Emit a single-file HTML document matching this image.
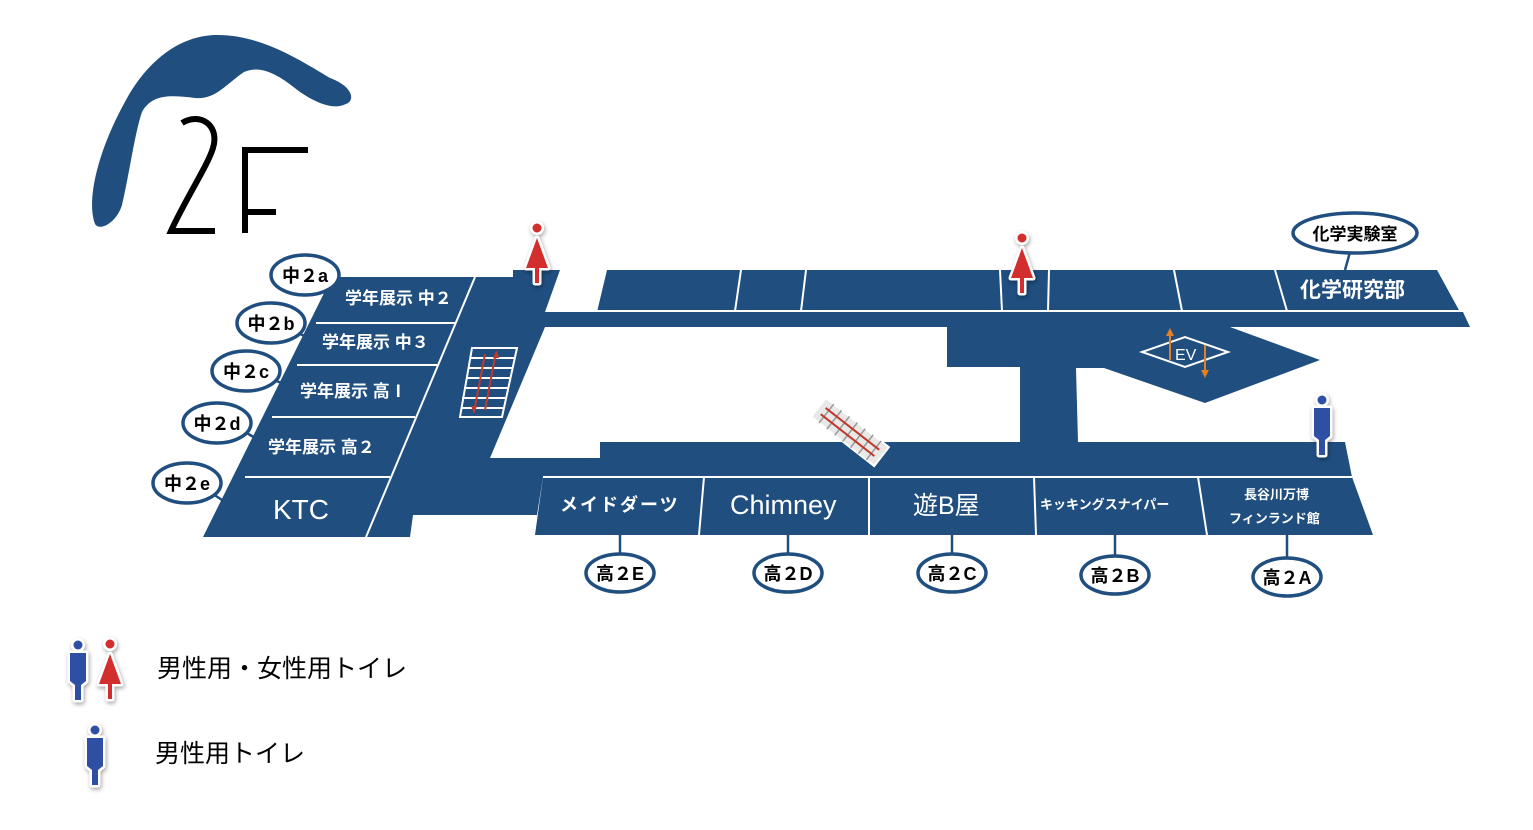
<!DOCTYPE html>
<html><head><meta charset="utf-8"><style>
html,body{margin:0;padding:0;background:#fff;}
svg{display:block}
text{font-family:"Liberation Sans","Noto Sans CJK JP",sans-serif;}
</style></head><body>
<svg width="1533" height="830" viewBox="0 0 1533 830" xmlns="http://www.w3.org/2000/svg">
<defs>
<filter id="sh" x="-50%" y="-50%" width="200%" height="200%"><feDropShadow dx="1" dy="2" stdDeviation="2" flood-color="#000" flood-opacity="0.35"/></filter>
</defs>
<!-- logo -->
<path d="M95,224 C86,200 98,150 126,100 C148,60 180,36 215,35 C260,34 300,60 330,78 C352,86 356,100 346,104 C334,110 318,104 300,92 C280,76 262,64 244,72 C225,85 215,100 195,98 C170,95 152,94 142,112 C135,132 130,170 122,205 C117,222 100,232 95,224 Z" fill="#1f4e7f"/>
<path d="M182,123 C200,112 220,125 213,148 C208,165 185,200 171,231 L215,231" fill="none" stroke="#000" stroke-width="6"/>
<path d="M245,233 L245,150 L308,150 M245,212 L276,212" fill="none" stroke="#000" stroke-width="6"/>

<g fill="#1f4e7f">
<polygon points="332,277 475,277 366,537 203,537"/>
<polygon points="472,277 513,277 513,270 560,270 545,312 598,312 598,327 545,327 490,458 600,458 600,442 1020,442 1020,367 947,367 947,327 1230,327 1320,360 1205,403 1104,368 1076,368 1078,442 1345,442 1352,477 543,477 537,515 413,515 410,537 366,537"/>
<polygon points="607,270 1437,270 1460,312 597,312"/>
<polygon points="540,312 1463,312 1470,327 540,327"/>
<polygon points="543,477 1352,477 1373,535 535,535"/>
</g>
<g stroke="#fff" stroke-width="2" fill="none">
<line x1="455" y1="323" x2="316" y2="323"/>
<line x1="437" y1="365" x2="297" y2="365"/>
<line x1="415" y1="417" x2="272" y2="417"/>
<line x1="390" y1="477" x2="245" y2="477"/>
<line x1="475" y1="277" x2="366" y2="537"/>
<line x1="597" y1="311" x2="1462" y2="311"/>
<line x1="741" y1="270" x2="735" y2="311"/>
<line x1="806" y1="270" x2="801" y2="311"/>
<line x1="1000" y1="270" x2="1002" y2="311"/>
<line x1="1049" y1="270" x2="1048" y2="311"/>
<line x1="1174" y1="270" x2="1182" y2="311"/>
<line x1="1275" y1="270" x2="1287" y2="311"/>
<line x1="543" y1="477" x2="1352" y2="477"/>
<line x1="704" y1="477" x2="699" y2="535"/>
<line x1="869" y1="477" x2="869" y2="535"/>
<line x1="1034" y1="477" x2="1036" y2="535"/>
<line x1="1198" y1="477" x2="1207" y2="535"/>
</g>
<g fill="#fff" font-weight="bold" font-size="17">
<text x="345" y="304">学年展示 中２</text>
<text x="322" y="348">学年展示 中３</text>
<text x="300" y="397">学年展示 高Ⅰ</text>
<text x="268" y="453">学年展示 高２</text>
<text x="273" y="519" font-size="28" font-weight="normal">KTC</text>
<text x="1300" y="297" font-size="21">化学研究部</text>
<text x="560" y="511" font-size="18" font-weight="bold" letter-spacing="2">メイドダーツ</text>
<text x="730" y="514" font-size="27" font-weight="normal">Chimney</text>
<text x="913" y="514" font-size="25" font-weight="normal">遊B屋</text>
<text x="1040" y="509" font-size="13" font-weight="bold">キッキングスナイパー</text>
<text x="1244" y="499" font-size="13">長谷川万博</text>
<text x="1229" y="523" font-size="13">フィンランド館</text>
</g>
<g stroke="#fff" stroke-width="2" fill="none">
<polygon points="472,348 517,348 502,417 460,417"/>
<line x1="470" y1="358" x2="515" y2="358"/><line x1="468" y1="368" x2="513" y2="368"/>
<line x1="466" y1="378" x2="510" y2="378"/><line x1="464" y1="388" x2="508" y2="388"/>
<line x1="462" y1="398" x2="506" y2="398"/><line x1="461" y1="408" x2="504" y2="408"/>
</g>
<g stroke="#c0392b" stroke-width="2"><line x1="485" y1="354" x2="474" y2="412"/><line x1="496" y1="352" x2="485" y2="410"/></g>
<polygon points="474,414 471,406 477,406" fill="#c0392b"/><polygon points="497,350 493,358 499,358" fill="#c0392b"/>
<g transform="translate(850,432) rotate(38)">
<rect x="-40" y="-12" width="80" height="24" fill="#e8e8e8" stroke="#fff" stroke-width="2"/>
<g stroke="#999" stroke-width="1.5"><line x1="-30" y1="-12" x2="-30" y2="12"/><line x1="-20" y1="-12" x2="-20" y2="12"/><line x1="-10" y1="-12" x2="-10" y2="12"/><line x1="0" y1="-12" x2="0" y2="12"/><line x1="10" y1="-12" x2="10" y2="12"/><line x1="20" y1="-12" x2="20" y2="12"/><line x1="30" y1="-12" x2="30" y2="12"/></g>
<line x1="-34" y1="-4" x2="34" y2="-4" stroke="#c0392b" stroke-width="2"/><line x1="-34" y1="4" x2="34" y2="4" stroke="#c0392b" stroke-width="2"/>
</g>
<polygon points="1142,352 1185,337 1228,352 1185,367" fill="none" stroke="#fff" stroke-width="2"/>
<text x="1175" y="360" fill="#fff" font-size="16">EV</text>
<g stroke="#e67e22" stroke-width="2"><line x1="1170" y1="360" x2="1170" y2="333"/><line x1="1205" y1="345" x2="1205" y2="373"/></g>
<polygon points="1170,328 1166,336 1174,336" fill="#e67e22"/><polygon points="1205,378 1201,370 1209,370" fill="#e67e22"/>
<g stroke="#1f4e7f" stroke-width="2.5">
<line x1="330" y1="285" x2="335" y2="290"/><line x1="298" y1="333" x2="313" y2="340"/><line x1="273" y1="380" x2="288" y2="385"/><line x1="245" y1="432" x2="262" y2="442"/><line x1="210" y1="492" x2="225" y2="502"/>
<line x1="620" y1="535" x2="620" y2="556"/><line x1="788" y1="535" x2="788" y2="556"/><line x1="952" y1="535" x2="952" y2="556"/><line x1="1115" y1="535" x2="1115" y2="558"/><line x1="1287" y1="535" x2="1287" y2="558"/>
<line x1="1350" y1="252" x2="1345" y2="270"/>
</g>
<g fill="#fff" stroke="#1f4e7f" stroke-width="3.5">
<ellipse cx="305" cy="275" rx="34" ry="20"/><ellipse cx="271" cy="323" rx="34" ry="20"/><ellipse cx="246" cy="371" rx="34" ry="20"/><ellipse cx="217" cy="423" rx="34" ry="20"/><ellipse cx="187" cy="483" rx="34" ry="20"/>
<ellipse cx="620" cy="573" rx="34" ry="19"/><ellipse cx="788" cy="573" rx="34" ry="19"/><ellipse cx="952" cy="573" rx="34" ry="19"/><ellipse cx="1115" cy="575" rx="34" ry="19"/><ellipse cx="1287" cy="577" rx="34" ry="19"/>
<ellipse cx="1355" cy="233" rx="62" ry="20"/>
</g>
<g fill="#000" font-size="18" text-anchor="middle" font-weight="bold">
<text x="305" y="282">中２a</text><text x="271" y="330">中２b</text><text x="246" y="378">中２c</text><text x="217" y="430">中２d</text><text x="187" y="490">中２e</text>
<text x="620" y="580">高２E</text><text x="788" y="580">高２D</text><text x="952" y="580">高２C</text><text x="1115" y="582">高２B</text><text x="1287" y="584">高２A</text>
<text x="1355" y="240" font-size="17">化学実験室</text>
</g>
<g id="fem" filter="url(#sh)">
<g stroke="#fff" stroke-width="5" stroke-linejoin="round" fill="#d32f2f">
<path d="M537,238 L548,268 L539,268 L539,283 L535,283 L535,268 L526,268 Z"/>
<circle cx="537" cy="228" r="4.5"/>
</g>
<path d="M537,238 L548,268 L539,268 L539,283 L535,283 L535,268 L526,268 Z" fill="#d32f2f"/><circle cx="537" cy="228" r="4.5" fill="#d32f2f"/>
</g>
<use href="#fem" transform="translate(485,10)"/>
<g id="male" filter="url(#sh)">
<g stroke="#fff" stroke-width="5" stroke-linejoin="round" fill="#2e4fa3">
<path d="M1314,408 L1330,408 L1330,436 L1325,440 L1325,455 L1319,455 L1319,440 L1314,436 Z"/>
<circle cx="1322" cy="400" r="4.5"/>
</g>
<path d="M1314,408 L1330,408 L1330,436 L1325,440 L1325,455 L1319,455 L1319,440 L1314,436 Z" fill="#2e4fa3"/><circle cx="1322" cy="400" r="4.5" fill="#2e4fa3"/>
</g>
<use href="#male" transform="translate(-1244,245)"/>
<use href="#fem" transform="translate(-427,416)"/>
<use href="#male" transform="translate(-1227,330)"/>
<text x="157" y="677" font-size="25" fill="#000">男性用・女性用トイレ</text>
<text x="155" y="762" font-size="25" fill="#000">男性用トイレ</text>
</svg>
</body></html>
